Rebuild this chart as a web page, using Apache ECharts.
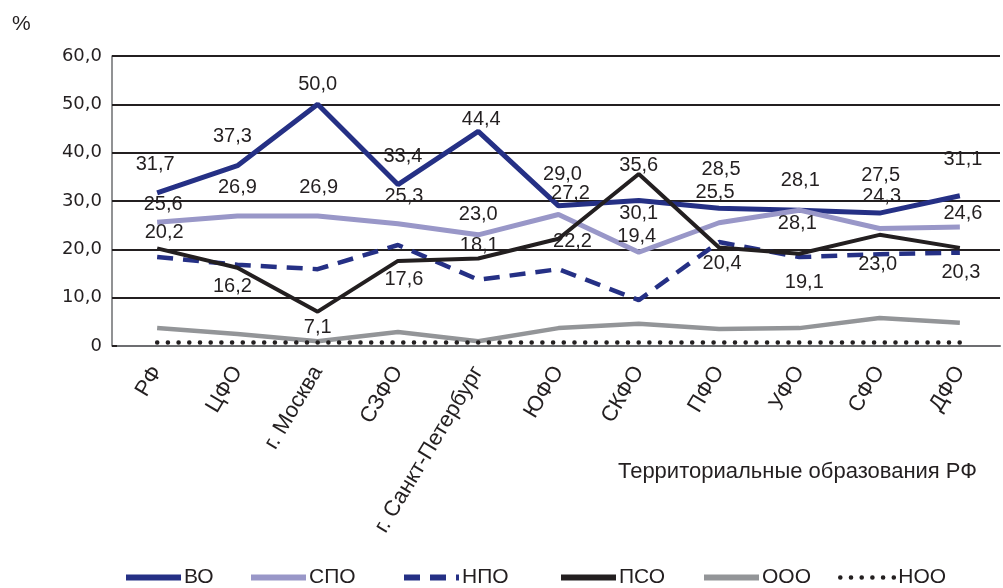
<!DOCTYPE html>
<html>
<head>
<meta charset="utf-8">
<script src="https://cdn.jsdelivr.net/npm/echarts@6/dist/echarts.min.js"></script>
<style>
html,body{margin:0;padding:0;background:#fff;}
#chart{width:1003px;height:588px;}
</style>
</head>
<body>
<div id="chart"></div>
<script>
const categories = ['РФ','ЦФО','г. Москва','СЗФО','г. Санкт-Петербург','ЮФО','СКФО','ПФО','УФО','СФО','ДФО'];
const seriesNames = ['ВО','СПО','НПО','ПСО','ООО','НОО'];
const vo  = [31.7, 37.3, 50.0, 33.4, 44.4, 29.0, 30.1, 28.5, 28.1, 27.5, 31.1];
const spo = [25.6, 26.9, 26.9, 25.3, 23.0, 27.2, 19.4, 25.5, 28.1, 24.3, 24.6];
const npo = [18.4, 16.8, 15.9, 20.9, 13.7, 15.9, 9.5, 21.5, 18.4, 19.0, 19.3];
const pso = [20.2, 16.2, 7.1, 17.6, 18.1, 22.2, 35.6, 20.4, 19.1, 23.0, 20.3];
const ooo = [3.7, 2.5, 1.0, 2.9, 1.0, 3.7, 4.6, 3.5, 3.7, 5.8, 4.8];
const noo = [0.7, 0.7, 0.7, 0.7, 0.7, 0.7, 0.7, 0.7, 0.7, 0.7, 0.7];
const yTicks = [0, 10, 20, 30, 40, 50, 60];

// label placement (pixel offsets from each point), style only
const voLabelOffset  = [[-2,-28],[-5,-29],[0,-20],[5,-28],[3,-12],[4,-31],[0,13],[2,-39],[1,-30],[1,-38],[3,-36]];
const spoLabelOffset = [[6,-18],[0,-28],[1,-28],[6,-27],[0,-20],[12,-21],[-2,-16],[-4,-30],[-2,13],[2,-32],[3,-14]];
const psoLabelOffset = [[7,-16],[-5,19],[0,16],[6,19],[1,-13],[14,3],[0,-8],[3,16],[5,29],[-2,30],[1,25]];

const fmt = v => v.toFixed(1).replace('.', ',');
const TXT = '#231f20';
const labelFont = {fontFamily:'Liberation Sans', fontSize:20, color:TXT};

function labeled(values, offsets){
  return values.map((v,i)=>({value:v, label:{show:true, position:'inside', offset:offsets[i]}}));
}

const colors = {
  'ВО':'#253085', 'СПО':'#9997c8', 'НПО':'#253085', 'ПСО':'#231f20', 'ООО':'#939598', 'НОО':'#231f20'
};

function lineSeries(name, data, lineStyle, withLabels){
  return {
    name, type:'line', data,
    symbol:'circle', symbolSize:0.1, showSymbol:true,
    itemStyle:{color:colors[name]},
    lineStyle:Object.assign({color:colors[name]}, lineStyle),
    label: withLabels ? Object.assign({show:true, position:'inside', formatter:p=>fmt(p.value)}, labelFont) : {show:false},
    emphasis:{disabled:true},
    animation:false
  };
}

const legendLefts = [118, 243, 396, 553, 696, 833];
const legends = seriesNames.map((n,i)=>({
  data:[n], left:legendLefts[i], top:562, itemWidth:55, itemHeight:12, itemGap:5,
  itemStyle:{opacity:0},
  lineStyle:{width: n==='НОО' ? 4.5 : 6},
  textStyle:{fontFamily:'Liberation Sans', fontSize:21, color:TXT, padding:[0,0,0,-2]},
  selectedMode:false
}));

const chart = echarts.init(document.getElementById('chart'), null, {renderer:'canvas'});
chart.setOption({
  backgroundColor:'#fff',
  animation:false,
  title:[
    {text:'%', left:7, top:9, textStyle:{fontFamily:'Liberation Sans', fontSize:21, fontWeight:'normal', color:TXT}},
    {text:'Территориальные образования РФ', right:21, top:456, textStyle:{fontFamily:'Liberation Sans', fontSize:22, fontWeight:'normal', color:TXT}}
  ],
  legend:legends,
  grid:{left:117, right:3, top:56, bottom:242, containLabel:false},
  xAxis:{
    type:'category', data:categories, boundaryGap:true,
    axisLine:{show:true, lineStyle:{color:'#6d6e71', width:2}},
    axisTick:{show:false},
    axisLabel:{rotate:59, margin:22, fontFamily:'Liberation Sans', fontSize:22, color:TXT, interval:0},
    splitLine:{show:false}
  },
  yAxis:{
    type:'value', min:yTicks[0], max:yTicks[yTicks.length-1], interval:10, offset:5,
    axisLine:{show:true, lineStyle:{color:'#6d6e71', width:1.5}},
    axisTick:{show:true, inside:true, length:5, lineStyle:{color:TXT, width:2}},
    axisLabel:{margin:10, fontFamily:'DejaVu Sans', fontSize:18, color:TXT, formatter:v=> v===0 ? '0' : fmt(v)},
    splitLine:{show:true, lineStyle:{color:TXT, width:2}}
  },
  series:[
    lineSeries('ВО', labeled(vo, voLabelOffset), {width:5}, true),
    lineSeries('СПО', labeled(spo, spoLabelOffset), {width:5}, true),
    lineSeries('НПО', npo, {width:4.5, type:[16,10]}, false),
    lineSeries('ПСО', labeled(pso, psoLabelOffset), {width:4}, true),
    lineSeries('ООО', ooo, {width:4.5}, false),
    lineSeries('НОО', noo, {width:4.5, type:[0.1,10.6], cap:'round'}, false)
  ]
});
</script>
</body>
</html>
